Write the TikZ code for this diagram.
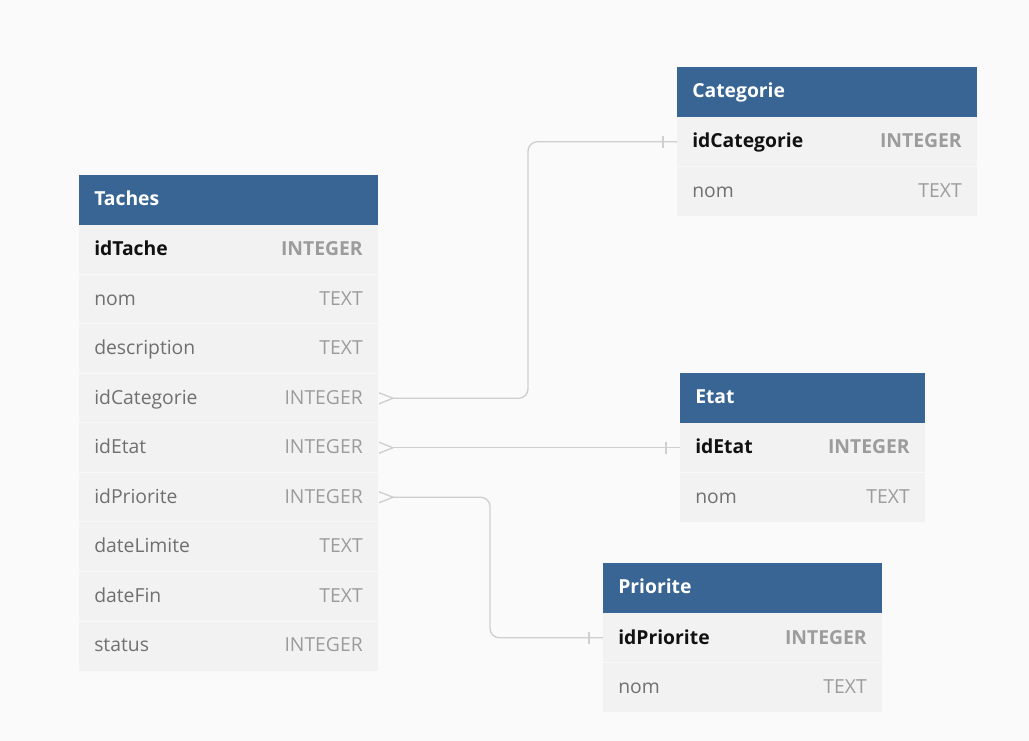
\documentclass[tikz,border=0pt]{standalone}
\usepackage{fontspec}
\setmainfont{Open Sans}
\usetikzlibrary{calc}
\definecolor{pagebg}{HTML}{FAFAFA}
\definecolor{hdrblue}{HTML}{386594}
\definecolor{rowgray}{HTML}{F2F2F2}
\definecolor{rowline}{HTML}{F8F8F8}
\definecolor{fieldgray}{HTML}{707070}
\definecolor{typegray}{HTML}{9C9C9C}
\definecolor{keyblack}{HTML}{111111}
\definecolor{conngray}{HTML}{CFCFCF}
\tikzset{
  hdr/.style={fill=hdrblue, draw=none, minimum height=37.5pt, anchor=north west, inner sep=0pt, outer sep=0pt},
  rowbox/.style={fill=rowgray, draw=none, minimum height=37.125pt, anchor=north west, inner sep=0pt, outer sep=0pt},
  ttl/.style={anchor=base west, inner sep=0pt, text=white, font=\fontsize{14.5}{18}\selectfont\bfseries},
  fname/.style={anchor=base west, inner sep=0pt, text=fieldgray, font=\fontsize{14.5}{18}\selectfont},
  ftype/.style={anchor=base east, inner sep=0pt, text=typegray, font=\fontsize{14.5}{18}\selectfont},
  kname/.style={anchor=base west, inner sep=0pt, text=keyblack, font=\fontsize{14.5}{18}\selectfont\bfseries},
  ktype/.style={anchor=base east, inner sep=0pt, text=typegray, font=\fontsize{14.5}{18}\selectfont\bfseries},
  sepline/.style={draw=rowline, line width=0.75pt},
  conn/.style={draw=conngray, line width=1pt},
}
% \erRow{name}{x}{top}{width}{field}{type}{namestyle}{typestyle}
\newcommand{\erRow}[8]{%
  \node[rowbox, minimum width=#4*0.75pt] (#1) at (#2,#3) {};
  \node[#7] (#1-n) at (#2+15,#3+31) {#5};
  \node[#8] (#1-t) at (#2+#4-15,#3+31) {#6};
}
\newcommand{\erHead}[5]{%
  \node[hdr, minimum width=#4*0.75pt] (#1) at (#2,#3) {};
  \node[ttl] (#1-n) at (#2+15,#3+30.5) {#5};
}
\begin{document}
\begin{tikzpicture}[x=0.75pt,y=-0.75pt]
\fill[pagebg] (0,0) rectangle (1029,741);
\useasboundingbox (0,0) rectangle (1029,741);

% ---- Taches ----
\erHead{th}{79}{175}{299}{Taches}
\erRow{t1}{79}{225}{299}{idTache}{INTEGER}{kname}{ktype}
\erRow{t2}{79}{274.5}{299}{nom}{TEXT}{fname}{ftype}
\erRow{t3}{79}{324}{299}{description}{TEXT}{fname}{ftype}
\erRow{t4}{79}{373.5}{299}{idCategorie}{INTEGER}{fname}{ftype}
\erRow{t5}{79}{423}{299}{idEtat}{INTEGER}{fname}{ftype}
\erRow{t6}{79}{472.5}{299}{idPriorite}{INTEGER}{fname}{ftype}
\erRow{t7}{79}{522}{299}{dateLimite}{TEXT}{fname}{ftype}
\erRow{t8}{79}{571.5}{299}{dateFin}{TEXT}{fname}{ftype}
\erRow{t9}{79}{621}{299}{status}{INTEGER}{fname}{ftype}
\foreach \r in {t2,t3,t4,t5,t6,t7,t8,t9} {\draw[sepline] (\r.north west) -- (\r.north east);}

% ---- Categorie ----
\erHead{ch}{677}{67}{300}{Categorie}
\erRow{c1}{677}{117}{300}{idCategorie}{INTEGER}{kname}{ktype}
\erRow{c2}{677}{166.5}{300}{nom}{TEXT}{fname}{ftype}
\draw[sepline] (c2.north west) -- (c2.north east);

% ---- Etat ----
\erHead{eh}{680}{373}{245}{Etat}
\erRow{e1}{680}{423}{245}{idEtat}{INTEGER}{kname}{ktype}
\erRow{e2}{680}{472.5}{245}{nom}{TEXT}{fname}{ftype}
\draw[sepline] (e2.north west) -- (e2.north east);

% ---- Priorite ----
\erHead{ph}{603}{563}{279}{Priorite}
\erRow{p1}{603}{613}{279}{idPriorite}{INTEGER}{kname}{ktype}
\erRow{p2}{603}{662.5}{279}{nom}{TEXT}{fname}{ftype}
\draw[sepline] (p2.north west) -- (p2.north east);

% ---- connectors ----
\coordinate (b1) at (528,0);
\coordinate (b3) at (490,0);
% Taches.idCategorie -> Categorie.idCategorie
\draw[conn, rounded corners=7pt] ($(t4.east)+(15,0)$) -- (b1 |- t4.east) -- (b1 |- c1.west) -- (c1.west);
\draw[conn] ($(t4.east)+(1,-5.5)$) -- ($(t4.east)+(15,0)$) -- ($(t4.east)+(1,5.5)$);
\draw[conn] ($(c1.west)+(-14,-6)$) -- ($(c1.west)+(-14,6)$);
% Taches.idEtat -> Etat.idEtat
\draw[conn] ($(t5.east)+(15,0)$) -- (e1.west);
\draw[conn] ($(t5.east)+(1,-5.5)$) -- ($(t5.east)+(15,0)$) -- ($(t5.east)+(1,5.5)$);
\draw[conn] ($(e1.west)+(-14,-6)$) -- ($(e1.west)+(-14,6)$);
% Taches.idPriorite -> Priorite.idPriorite
\draw[conn, rounded corners=7pt] ($(t6.east)+(15,0)$) -- (b3 |- t6.east) -- (b3 |- p1.west) -- (p1.west);
\draw[conn] ($(t6.east)+(1,-5.5)$) -- ($(t6.east)+(15,0)$) -- ($(t6.east)+(1,5.5)$);
\draw[conn] ($(p1.west)+(-14,-6)$) -- ($(p1.west)+(-14,6)$);
\end{tikzpicture}
\end{document}
